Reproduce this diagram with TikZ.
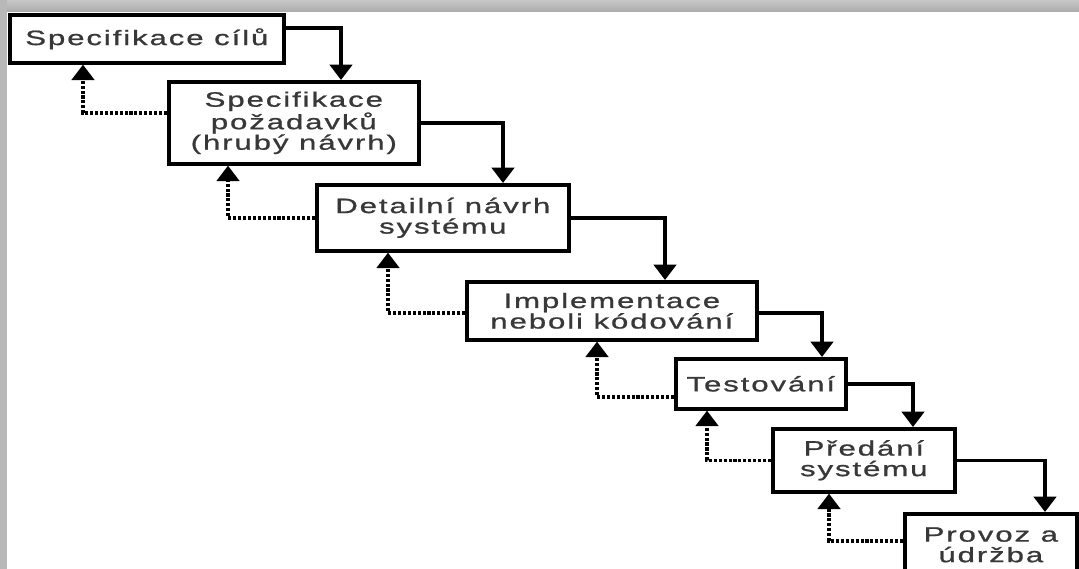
\documentclass[tikz,border=0pt]{standalone}
\usepackage{fontspec}
\setmainfont{Liberation Sans}[FakeStretch=1.5,LetterSpace=9,FakeBold=0.9]
\usetikzlibrary{arrows.meta}

\newcommand{\pxu}{0.025cm}

\begin{document}
\begin{tikzpicture}[
    x=0.025cm,y=-0.025cm,
    stage/.style={draw,line width=2.6pt,fill=white,anchor=north west,
        align=center,inner sep=0pt,text=black!78,
        font=\fontsize{14.8}{14.6}\selectfont},
    flow/.style={-{Triangle[width=16pt,length=11pt]},draw,line width=2.5pt},
    back/.style={-{Triangle[width=16pt,length=11pt]},draw,line width=2.5pt,
        dash pattern=on 2.2pt off 1.3pt}
]
    \useasboundingbox (0,0) rectangle (1079,569);
    \clip (0,0) rectangle (1079,569);
    % frame
    \shade[top color=black!22,bottom color=black!33] (0,0) rectangle (1079,12);
    \fill[black!28] (0,0) rectangle (7,569);

    \node[stage,minimum width={274*\pxu},minimum height={48*\pxu}] (s1) at (8,13)
        {Specifikace cílů};
    \node[stage,minimum width={250*\pxu},minimum height={82*\pxu}] (s2) at (167,80)
        {Specifikace\\požadavků\\(hrubý návrh)};
    \node[stage,minimum width={252*\pxu},minimum height={66*\pxu}] (s3) at (315,183)
        {Detailní návrh\\systému};
    \node[stage,minimum width={290*\pxu},minimum height={58*\pxu}] (s4) at (465,280)
        {Implementace\\neboli kódování};
    \node[stage,minimum width={170*\pxu},minimum height={50*\pxu}] (s5) at (674,357)
        {Testování};
    \node[stage,minimum width={182*\pxu},minimum height={63*\pxu}] (s6) at (771,427)
        {Předání\\systému};
    \node[stage,minimum width={172*\pxu},minimum height={62*\pxu}] (s7) at (903,512)
        {Provoz a\\údržba};

    \draw[flow] (s1.east |- 0,28) -| (s2.north -| 341,0);
    \draw[flow] (s2.east) -| (s3.north -| 503,0);
    \draw[flow] (s3.east) -| (s4.north -| 665,0);
    \draw[flow] (s4.east |- 0,313) -| (s5.north -| 822,0);
    \draw[flow] (s5.east) -| (s6.north -| 913,0);
    \draw[flow] (s6.east) -| (s7.north -| 1045,0);

    \draw[back] (s2.west |- 0,113) -| (s1.south -| 83,0);
    \draw[back] (s3.west) -| (s2.south -| 228,0);
    \draw[back] (s4.west |- 0,313) -| (s3.south -| 388,0);
    \draw[back] (s5.west |- 0,397) -| (s4.south -| 597,0);
    \draw[back] (s6.west) -| (s5.south -| 707,0);
    \draw[back] (s7.west |- 0,541) -| (s6.south -| 829,0);
\end{tikzpicture}
\end{document}
